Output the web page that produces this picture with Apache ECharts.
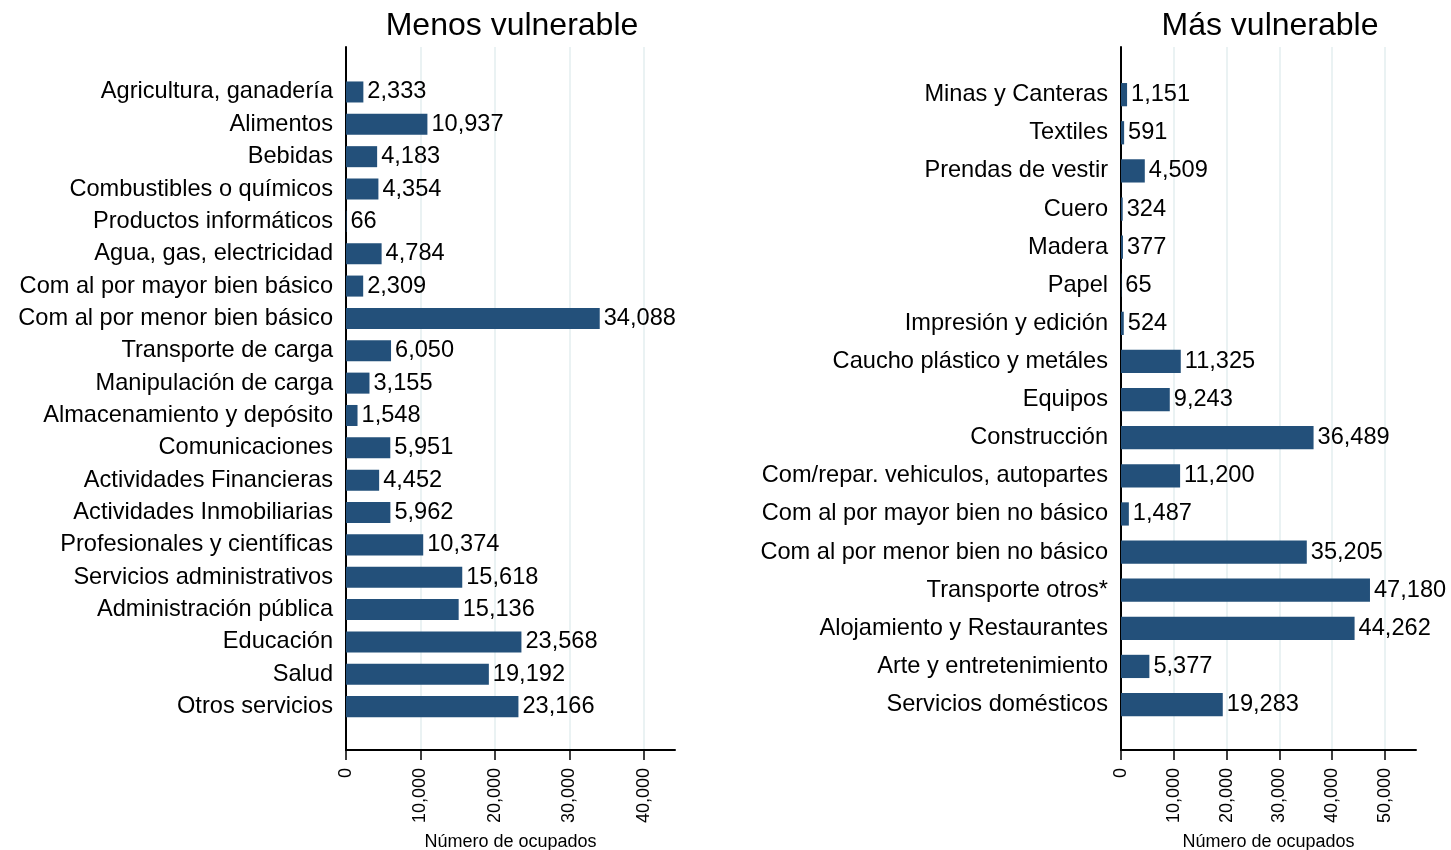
<!DOCTYPE html>
<html>
<head>
<meta charset="UTF-8">
<title>Ocupados por sector</title>
<script src="https://cdn.jsdelivr.net/npm/echarts@6/dist/echarts.min.js"></script>
<style>
  html, body { margin: 0; padding: 0; background: #fff; }
  #chart { width: 1451px; height: 850px; }
</style>
</head>
<body>
<div id="chart"></div>
<script>
// datos: sectores menos vulnerables
var leftCats = ['Agricultura, ganadería', 'Alimentos', 'Bebidas', 'Combustibles o químicos',
  'Productos informáticos', 'Agua, gas, electricidad', 'Com al por mayor bien básico',
  'Com al por menor bien básico', 'Transporte de carga', 'Manipulación de carga',
  'Almacenamiento y depósito', 'Comunicaciones', 'Actividades Financieras',
  'Actividades Inmobiliarias', 'Profesionales y científicas', 'Servicios administrativos',
  'Administración pública', 'Educación', 'Salud', 'Otros servicios'];
var leftVals = [2333, 10937, 4183, 4354, 66, 4784, 2309, 34088, 6050, 3155, 1548, 5951,
  4452, 5962, 10374, 15618, 15136, 23568, 19192, 23166];

// datos: sectores más vulnerables
var rightCats = ['Minas y Canteras', 'Textiles', 'Prendas de vestir', 'Cuero', 'Madera', 'Papel',
  'Impresión y edición', 'Caucho plástico y metáles', 'Equipos', 'Construcción',
  'Com/repar. vehiculos, autopartes', 'Com al por mayor bien no básico',
  'Com al por menor bien no básico', 'Transporte otros*', 'Alojamiento y Restaurantes',
  'Arte y entretenimiento', 'Servicios domésticos'];
var rightVals = [1151, 591, 4509, 324, 377, 65, 524, 11325, 9243, 36489, 11200, 1487, 35205,
  47180, 44262, 5377, 19283];

// ticks del eje x
var leftTicks = [0, 10000, 20000, 30000, 40000];
var rightTicks = [0, 10000, 20000, 30000, 40000, 50000];
var leftMax = 44200;
var rightMax = 55900;

var FONT = '"Liberation Sans", Arial, sans-serif';
var BAR = '#23507a';
var GRIDC = '#eaf2f3';
var LBL = 23.6;

function fmt(v) {
  return Math.round(v).toString().replace(/\B(?=(\d{3})+(?!\d))/g, ',');
}

var myChart = echarts.init(document.getElementById('chart'));

// eje de marco (lineas, ticks, grilla)
function frameX(idx, max, ticks) {
  return {
    gridIndex: idx, type: 'value', min: 0, max: max,
    axisLine: { show: true, lineStyle: { color: '#000', width: 2 } },
    axisTick: { show: true, customValues: ticks, length: 10, lineStyle: { color: '#000', width: 1.5 } },
    axisLabel: { customValues: ticks, rotate: 90, margin: 18, fontSize: 18, color: '#000',
      fontFamily: FONT, formatter: function (v) { return fmt(v); } },
    splitLine: { show: true, lineStyle: { color: GRIDC, width: 2 } },
    name: 'Número de ocupados', nameLocation: 'middle', nameGap: 83,
    nameTextStyle: { fontSize: 18, color: '#000', fontFamily: FONT }
  };
}
function frameY(idx) {
  return {
    gridIndex: idx, type: 'value', min: 0, max: 1,
    axisLine: { show: true, lineStyle: { color: '#000', width: 2 } },
    axisTick: { show: false }, axisLabel: { show: false }, splitLine: { show: false }
  };
}
function barX(idx, max) {
  return { gridIndex: idx, type: 'value', min: 0, max: max, show: false };
}
function barY(idx, cats) {
  return {
    gridIndex: idx, type: 'category', data: cats, inverse: true,
    axisLine: { show: false }, axisTick: { show: false }, splitLine: { show: false },
    axisLabel: { margin: 13, fontSize: LBL, color: '#000', fontFamily: FONT, interval: 0 }
  };
}
function barSeries(xi, yi, vals, gap) {
  return {
    type: 'bar', xAxisIndex: xi, yAxisIndex: yi, data: vals,
    barCategoryGap: gap,
    itemStyle: { color: BAR },
    label: { show: true, position: 'right', distance: 4, fontSize: LBL, color: '#000',
      fontFamily: FONT, formatter: function (p) { return fmt(p.value); } },
    silent: true
  };
}

option = {
  animation: false,
  backgroundColor: '#fff',
  textStyle: { fontFamily: FONT },
  grid: [
    { left: 346, width: 329, top: 47, height: 703, outerBoundsMode: 'none' },
    { left: 346, width: 329, top: 75.8, height: 647, outerBoundsMode: 'none' },
    { left: 1121, width: 295, top: 47, height: 703, outerBoundsMode: 'none' },
    { left: 1121, width: 295, top: 75.6, height: 648, outerBoundsMode: 'none' }
  ],
  xAxis: [frameX(0, leftMax, leftTicks), barX(1, leftMax), frameX(2, rightMax, rightTicks), barX(3, rightMax)],
  yAxis: [frameY(0), barY(1, leftCats), frameY(2), barY(3, rightCats)],
  series: [
    barSeries(1, 1, leftVals, '35%'),
    barSeries(3, 3, rightVals, '39%')
  ],
  graphic: [
    { type: 'text', x: 512, y: 26, style: { text: 'Menos vulnerable', fill: '#000',
      font: '32px ' + FONT, textAlign: 'center', textVerticalAlign: 'middle' } },
    { type: 'text', x: 1270, y: 26, style: { text: 'Más vulnerable', fill: '#000',
      font: '32px ' + FONT, textAlign: 'center', textVerticalAlign: 'middle' } }
  ]
};
myChart.setOption(option);
</script>
</body>
</html>
